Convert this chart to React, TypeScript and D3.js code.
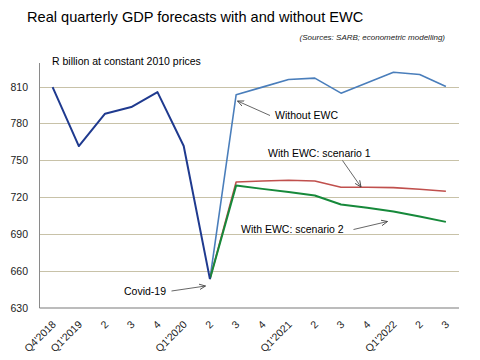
import React from "react";
import * as d3 from "d3";

const categories = ["Q4'2018", "Q1'2019", "2", "3", "4", "Q1'2020", "2", "3", "4", "Q1'2021", "2", "3", "4", "Q1'2022", "2", "3"];
const historyStart = 0;
const history = [809.5, 761.6, 787.9, 793.3, 805.4, 761.6, 653.5];
const forecastStart = 6;
const withoutEWC = [653.5, 803.3, 809.5, 815.7, 816.8, 804.6, 813.0, 821.6, 819.8, 810.0];
const scenario1 = [653.5, 732.4, 733.2, 733.8, 733.2, 728.1, 728.1, 727.8, 726.5, 724.9];
const scenario2 = [653.5, 729.5, 726.8, 724.3, 721.4, 714.1, 711.4, 708.4, 704.4, 700.0];
const yTicks = [630, 660, 690, 720, 750, 780, 810];

const FONT = "'Liberation Sans', Arial, sans-serif";

export default function App() {
  const W = 480, H = 360;
  const left = 39.5, right = 459, top = 63, bottom = 308;
  const x = d3.scaleBand<number>().domain(categories.map((_, i) => i)).range([left, right]);
  const cx = (i: number) => (x(i) as number) + x.bandwidth() / 2;
  const y = d3.scaleLinear().domain([630, 810]).range([bottom, 86.5]);

  const line = d3.line<[number, number]>().x(d => cx(d[0])).y(d => y(d[1]));
  const toPts = (arr: number[], start: number) => arr.map((v, i) => [start + i, v] as [number, number]);

  const series = [
    { data: toPts(withoutEWC, forecastStart), color: "#4a7ebb", w: 1.6 },
    { data: toPts(scenario1, forecastStart), color: "#c0504d", w: 1.6 },
    { data: toPts(scenario2, forecastStart), color: "#16893a", w: 2 },
    { data: toPts(history, historyStart), color: "#1f3a8f", w: 2 },
  ];

  const arrows = [
    { x1: 270, y1: 115.5, x2: 237.5, y2: 101 },
    { x1: 342.5, y1: 160.5, x2: 361, y2: 187 },
    { x1: 353.5, y1: 229.5, x2: 387.5, y2: 221.5 },
    { x1: 171.5, y1: 291, x2: 205.5, y2: 286 },
  ];

  return (
    <svg width={W} height={H} style={{ position: "absolute", left: 0, top: 0, background: "#fff" }} fontFamily={FONT}>
      <defs>
        <marker id="arr" viewBox="0 0 10 10" refX="9" refY="5" markerWidth="7" markerHeight="7" orient="auto" markerUnits="userSpaceOnUse">
          <path d="M0,1 L9,5 L0,9" fill="none" stroke="#404040" strokeWidth="1.2" />
        </marker>
      </defs>
      <text x={27} y={22} fontSize={14.6} fill="#000">Real quarterly GDP forecasts with and without EWC</text>
      <text x={445} y={40} fontSize={8} fontStyle="italic" textAnchor="end" fill="#222">(Sources: SARB; econometric modelling)</text>
      <text x={52} y={65} fontSize={10.5} fill="#000">R billion at constant 2010 prices</text>

      {yTicks.filter(t => t !== 630).map(t => (
        <line key={t} x1={left} x2={right} y1={Math.round(y(t)) + 0.5} y2={Math.round(y(t)) + 0.5} stroke="#c8c2a8" strokeWidth={1} />
      ))}
      <line x1={left} x2={left} y1={top} y2={bottom} stroke="#8a8a8a" strokeWidth={1} />
      <line x1={left} x2={right} y1={bottom} y2={bottom} stroke="#7a7a7a" strokeWidth={1.2} />

      {yTicks.map(t => (
        <text key={t} x={28} y={y(t) + 4} fontSize={10.5} textAnchor="end" fill="#222">{t}</text>
      ))}
      {categories.map((c, i) => (
        <text key={i} transform={`translate(${cx(i) + 4},${bottom + 17}) rotate(-45)`} fontSize={10.5} textAnchor="end" fill="#222">{c}</text>
      ))}

      {series.map((s, i) => (
        <path key={i} d={line(s.data) as string} fill="none" stroke={s.color} strokeWidth={s.w} strokeLinejoin="round" />
      ))}

      {arrows.map((a, i) => (
        <line key={i} x1={a.x1} y1={a.y1} x2={a.x2} y2={a.y2} stroke="#404040" strokeWidth={0.8} markerEnd="url(#arr)" />
      ))}
      <text x={275} y={119} fontSize={10.5} fill="#000">Without EWC</text>
      <text x={268} y={156.5} fontSize={10.5} fill="#000">With EWC: scenario 1</text>
      <text x={241} y={233} fontSize={10.5} fill="#000">With EWC: scenario 2</text>
      <text x={124} y={295} fontSize={10.5} fill="#000">Covid-19</text>
    </svg>
  );
}
